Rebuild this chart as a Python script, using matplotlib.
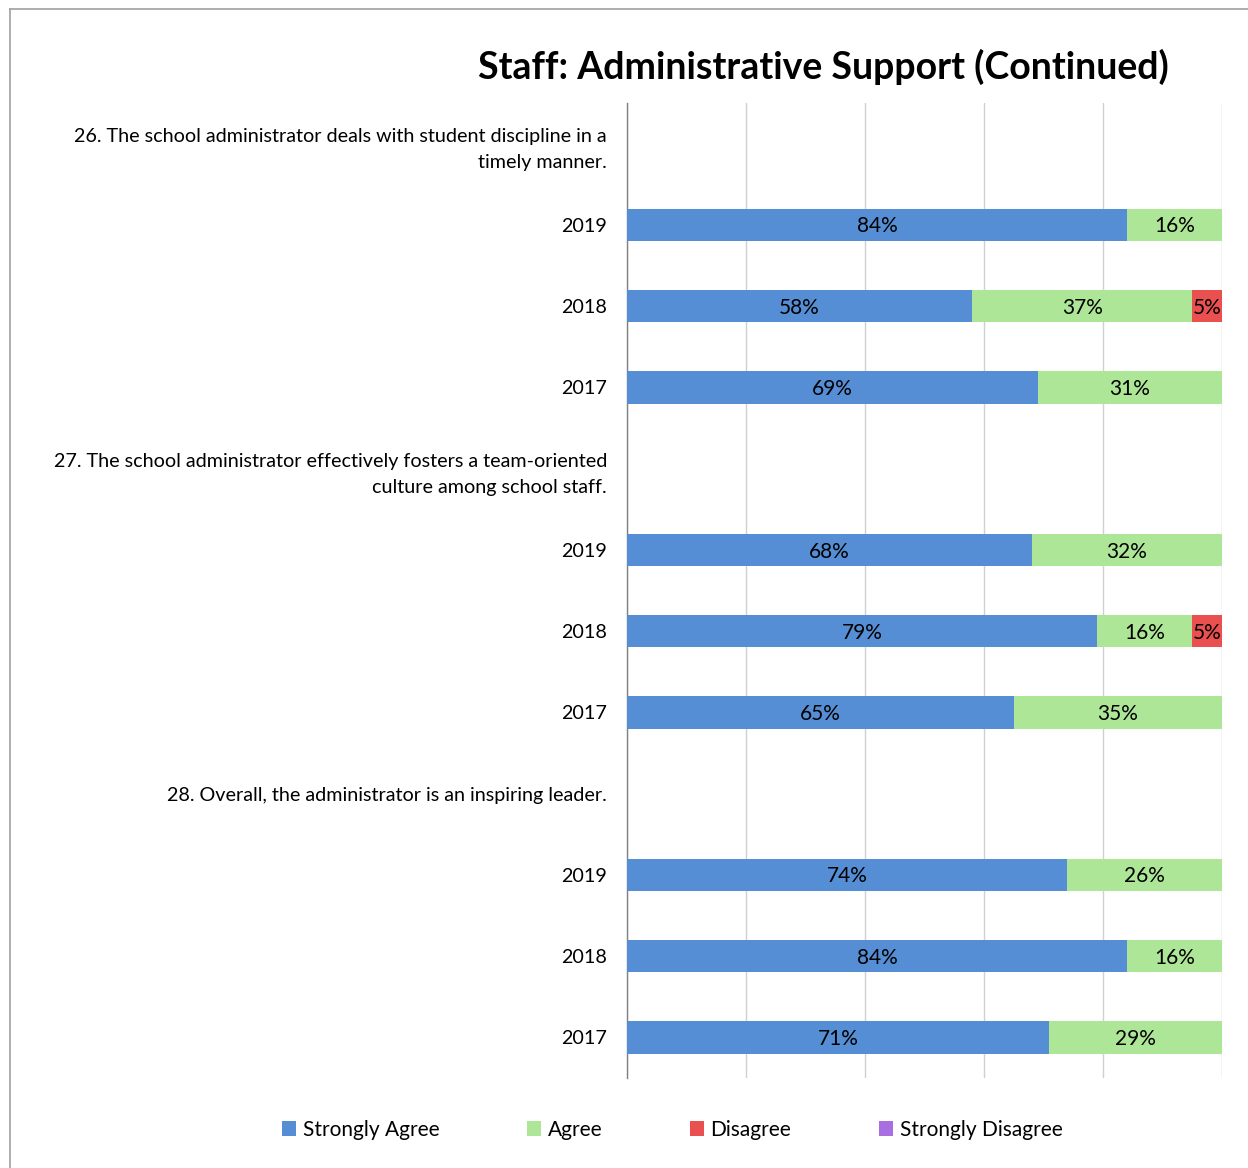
import matplotlib
matplotlib.use("Agg")
import matplotlib.pyplot as plt
from matplotlib.lines import Line2D
from matplotlib.patches import Patch
import numpy as np

plt.rcParams['font.family'] = ['Lato', 'DejaVu Sans']

# Row labels, top to bottom (question headers carry no bars)
row_labels = [
    "26. The school administrator deals with student discipline in a\ntimely manner.",
    "2019", "2018", "2017",
    "27. The school administrator effectively fosters a team-oriented\nculture among school staff.",
    "2019", "2018", "2017",
    "28. Overall, the administrator is an inspiring leader.",
    "2019", "2018", "2017",
]

series_names = ["Strongly Agree", "Agree", "Disagree", "Strongly Disagree"]
strongly_agree = [0, 84, 58, 69, 0, 68, 79, 65, 0, 74, 84, 71]
agree = [0, 16, 37, 31, 0, 32, 16, 35, 0, 26, 16, 29]
disagree = [0, 0, 5, 0, 0, 0, 5, 0, 0, 0, 0, 0]
strongly_disagree = [0] * 12

colors = ["#558ED5", "#AEE698", "#EA5050", "#A96FE0"]

fig = plt.figure(figsize=(12.48, 11.68), dpi=100)
ax = fig.add_axes([627 / 1248, 1 - 1078 / 1168, (1222 - 627) / 1248, (1078 - 103) / 1168])

y = np.arange(len(row_labels))
left = np.zeros(len(row_labels))
for name, vals, col in zip(series_names,
                           [strongly_agree, agree, disagree, strongly_disagree],
                           colors):
    vals = np.array(vals, dtype=float)
    ax.barh(y, vals, left=left, height=0.4, color=col, label=name, zorder=3)
    for yi, (l, v) in enumerate(zip(left, vals)):
        if v > 0:
            ax.text(l + v / 2, yi + 0.02, f"{int(v)}%", ha="center", va="center",
                    fontsize=15, color="black", zorder=4)
    left += vals

ax.set_xlim(0, 100)
ax.set_ylim(len(row_labels) - 0.5, -0.5)
ax.set_xticks([0, 20, 40, 60, 80, 100])
ax.set_xticklabels([])
ax.tick_params(axis="x", length=0)
ax.tick_params(axis="y", length=0, pad=14.4)
ax.set_yticks(y)
ax.set_yticklabels(row_labels, fontsize=14.2, multialignment="right", linespacing=1.65)
ax.grid(axis="x", color="#D0D0D0", linewidth=1, zorder=0)
for s in ["top", "right", "bottom"]:
    ax.spines[s].set_visible(False)
ax.spines["left"].set_color("#808080")
ax.spines["left"].set_linewidth(1)

fig.text(823 / 1248, 1 - 67 / 1168, "Staff: Administrative Support (Continued)",
         ha="center", va="center", fontsize=27, fontweight="bold")

handles = [Patch(facecolor=c, edgecolor="none") for c in colors]
fig.legend(handles, series_names, loc="center", bbox_to_anchor=(672 / 1248, 1 - 1130 / 1168),
           ncol=4, frameon=False, fontsize=15, handlelength=0.7, handleheight=0.7,
           handletextpad=0.3, columnspacing=4.2)

# Outer frame (left and top edges)
fig.add_artist(Line2D([10 / 1248, 10 / 1248], [0, 1 - 9 / 1168], color="#A0A0A0", lw=1.2,
                      transform=fig.transFigure))
fig.add_artist(Line2D([10 / 1248, 1], [1 - 9 / 1168, 1 - 9 / 1168], color="#A0A0A0", lw=1.2,
                      transform=fig.transFigure))

fig.savefig("out.png", dpi=100)
